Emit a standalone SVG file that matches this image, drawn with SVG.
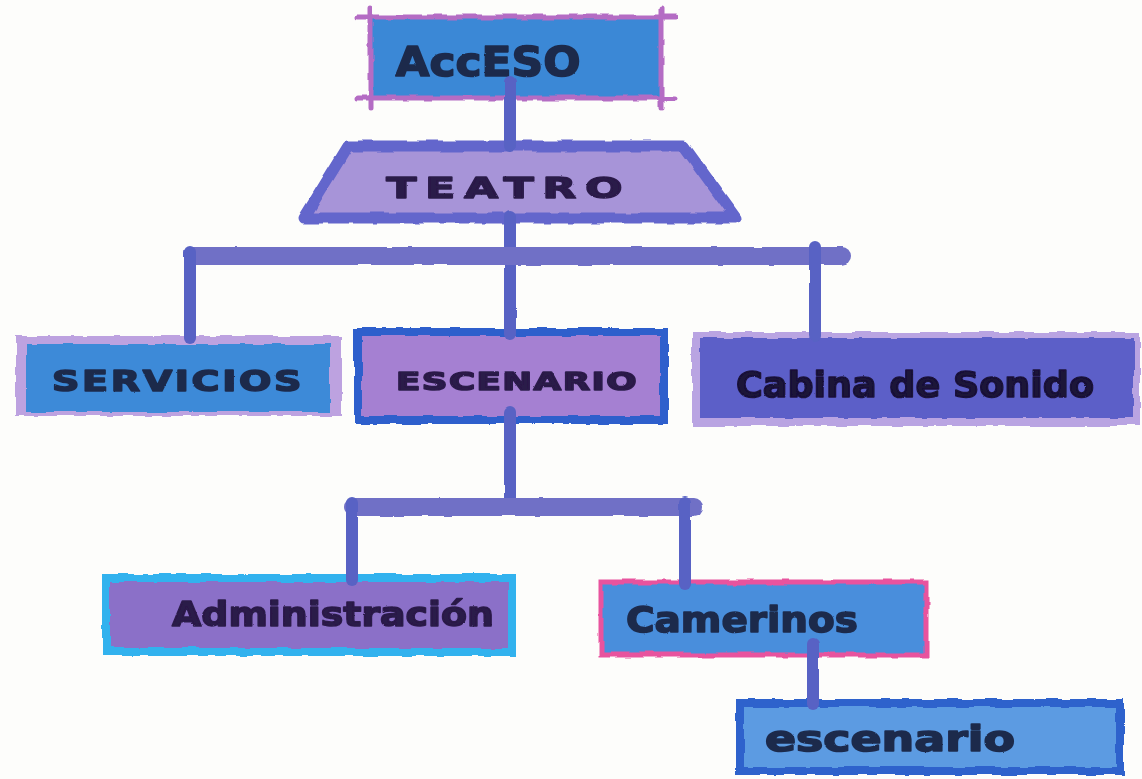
<svg xmlns="http://www.w3.org/2000/svg" width="1142" height="779" viewBox="0 0 1142 779">
<defs>
<filter id="rough" x="-5%" y="-10%" width="110%" height="120%">
<feTurbulence type="fractalNoise" baseFrequency="0.05" numOctaves="2" seed="4"/>
<feDisplacementMap in="SourceGraphic" scale="5" xChannelSelector="R" yChannelSelector="G"/>
</filter>
<filter id="lite" x="-5%" y="-5%" width="110%" height="110%">
<feTurbulence type="fractalNoise" baseFrequency="0.04" numOctaves="2" seed="7"/>
<feDisplacementMap in="SourceGraphic" scale="2.5" xChannelSelector="R" yChannelSelector="G"/>
</filter>
<filter id="soft" x="-5%" y="-20%" width="110%" height="140%">
<feTurbulence type="fractalNoise" baseFrequency="0.9" numOctaves="1" seed="2"/>
<feDisplacementMap in="SourceGraphic" scale="2" xChannelSelector="R" yChannelSelector="G"/>
<feGaussianBlur stdDeviation="0.7"/>
</filter>
</defs>
<style>
.lbl{font-family:"DejaVu Sans","Liberation Sans",sans-serif;font-weight:bold;text-anchor:middle;dominant-baseline:central;stroke-width:1.6;stroke-linejoin:round}
.blk{fill:#1c2a4c;stroke:#1c2a4c}
.prp{fill:#2a1a48;stroke:#2a1a48}
.conn{stroke-linecap:round;fill:none}
.bar{stroke:#6f6fc6;stroke-width:18}
.vl{stroke:#5862c4;stroke-width:12}
</style>
<rect width="1142" height="779" fill="#fdfdfb"/>

<g id="node-acceso">
<g filter="url(#rough)">
<rect x="372" y="18" width="288" height="80" fill="#3a88d6"/>
<g stroke="#b46cc4" stroke-width="5" stroke-linecap="round">
<line x1="357" y1="17" x2="675" y2="17"/>
<line x1="357" y1="98" x2="675" y2="98"/>
<line x1="371" y1="8" x2="371" y2="108"/>
<line x1="661" y1="8" x2="661" y2="108"/>
</g>
</g>
<text class="lbl blk" x="488" y="62" font-size="40" textLength="185" lengthAdjust="spacingAndGlyphs" filter="url(#soft)">AccESO</text>
</g>

<g id="node-teatro">
<polygon points="348,146 684,146 736,218 304,218" fill="#a794d8" stroke="#6466cc" stroke-width="11" stroke-linejoin="round" filter="url(#rough)"/>
<text class="lbl prp" x="509" y="188" font-size="29" letter-spacing="6" textLength="245" lengthAdjust="spacingAndGlyphs" filter="url(#soft)">TEATRO</text>
</g>

<g id="node-servicios">
<g filter="url(#rough)">
<rect x="16" y="336" width="326" height="80" fill="#bda2e0"/>
<rect x="26" y="344" width="304" height="68" fill="#3c8ad8"/>
</g>
<text class="lbl blk" x="178" y="381" font-size="29" letter-spacing="2" textLength="252" lengthAdjust="spacingAndGlyphs" filter="url(#soft)">SERVICIOS</text>
</g>

<g id="node-escenario">
<rect x="358" y="332" width="306" height="88" fill="#a580d2" stroke="#2e5ecc" stroke-width="8" filter="url(#rough)"/>
<text class="lbl prp" x="517" y="381" font-size="25" letter-spacing="1" textLength="242" lengthAdjust="spacingAndGlyphs" filter="url(#soft)">ESCENARIO</text>
</g>

<g id="node-cabina">
<g filter="url(#rough)">
<rect x="692" y="332" width="448" height="94" fill="#b9a4e2"/>
<rect x="700" y="338" width="434" height="80" fill="#5b5ec8"/>
</g>
<text class="lbl" x="915" y="384" font-size="36" textLength="358" lengthAdjust="spacingAndGlyphs" fill="#1a1238" stroke="#1a1238" filter="url(#soft)">Cabina de Sonido</text>
</g>

<g id="node-administracion">
<rect x="106" y="578" width="406" height="74" fill="#8b6fc8" stroke="#33b2ee" stroke-width="8" filter="url(#rough)"/>
<text class="lbl prp" x="333" y="614" font-size="34" textLength="322" lengthAdjust="spacingAndGlyphs" filter="url(#soft)">Administración</text>
</g>

<g id="node-camerinos">
<rect x="601" y="582" width="325" height="73" fill="#4a8edc" stroke="#e8529e" stroke-width="5" filter="url(#rough)"/>
<text class="lbl blk" x="742" y="619" font-size="36" textLength="232" lengthAdjust="spacingAndGlyphs" filter="url(#soft)">Camerinos</text>
</g>

<g id="node-escenario2">
<rect x="740" y="703" width="380" height="68" fill="#5b9be2" stroke="#2f62cc" stroke-width="8" filter="url(#rough)"/>
<text class="lbl blk" x="890" y="739" font-size="35" textLength="250" lengthAdjust="spacingAndGlyphs" filter="url(#soft)">escenario</text>
</g>

<g id="connectors" class="conn" filter="url(#lite)">
<line class="vl" x1="510" y1="82" x2="510" y2="146"/>
<line class="vl" x1="510" y1="216" x2="510" y2="334"/>
<line class="bar" x1="193" y1="256" x2="842" y2="256"/>
<line class="vl" x1="190" y1="252" x2="190" y2="338"/>
<line class="vl" x1="815" y1="247" x2="815" y2="336"/>
<line class="vl" x1="510" y1="412" x2="510" y2="505"/>
<line class="bar" x1="353" y1="507" x2="694" y2="507"/>
<line class="vl" x1="352" y1="503" x2="352" y2="580"/>
<line class="vl" x1="685" y1="503" x2="685" y2="584"/>
<line class="vl" x1="813" y1="644" x2="813" y2="704"/>
</g>
</svg>
